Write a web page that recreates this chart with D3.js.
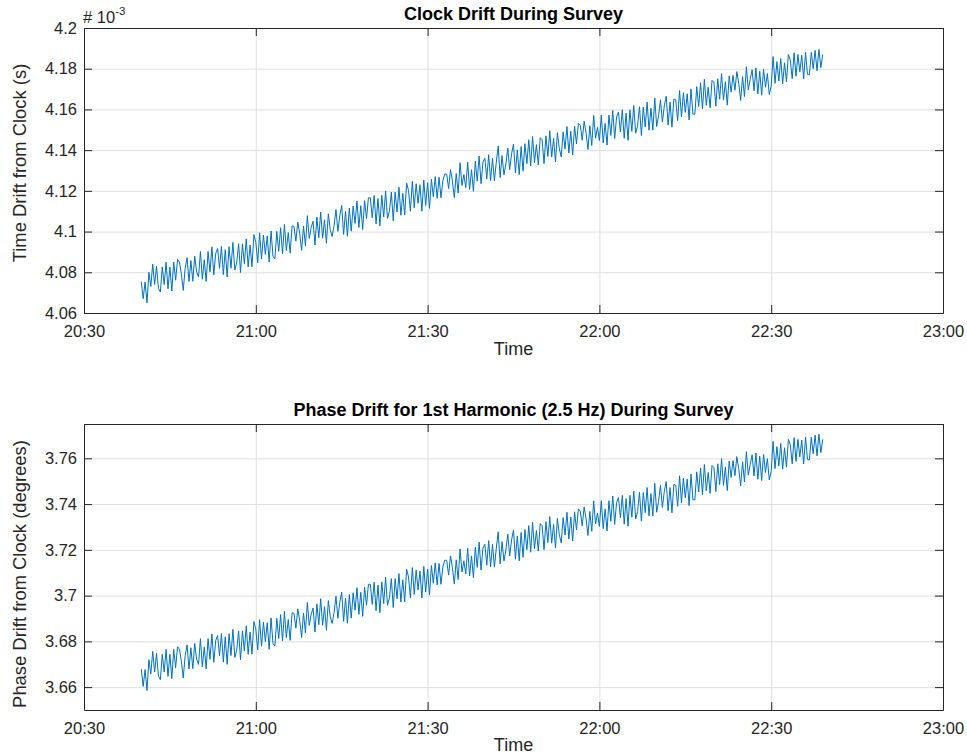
<!DOCTYPE html>
<html>
<head>
<meta charset="utf-8">
<script src="https://cdn.jsdelivr.net/npm/d3@7"></script>
<style>
  body { margin: 0; background: #fff; }
  svg { display: block; }
</style>
</head>
<body>
<svg id="chart" width="967" height="754"></svg>
<script>
// Survey clock record: one drift sample every 20 s starting at 20:40:00.
const START_TIME = "20:40:00";
const SAMPLE_SECONDS = 20;
const HARMONIC_HZ = 2.5;

// Time drift from the reference clock, in units of 10^-3 s.
const DRIFT_MS = [
  4.0754, 4.0670, 4.0752, 4.0650, 4.0800, 4.0730, 4.0840, 4.0740, 4.0830, 4.0720,
  4.0703, 4.0826, 4.0740, 4.0850, 4.0719, 4.0826, 4.0708, 4.0850, 4.0761, 4.0863,
  4.0850, 4.0793, 4.0711, 4.0819, 4.0872, 4.0755, 4.0858, 4.0756, 4.0879, 4.0802,
  4.0777, 4.0902, 4.0766, 4.0862, 4.0755, 4.0902, 4.0802, 4.0925, 4.0787, 4.0893,
  4.0917, 4.0819, 4.0927, 4.0788, 4.0911, 4.0777, 4.0926, 4.0820, 4.0947, 4.0811,
  4.0846, 4.0940, 4.0799, 4.0940, 4.0842, 4.0964, 4.0826, 4.0934, 4.0827, 4.0985,
  4.0948, 4.0847, 4.0994, 4.0865, 4.0983, 4.0888, 4.0979, 4.0850, 4.1003, 4.0879,
  4.0866, 4.1001, 4.0903, 4.1019, 4.0890, 4.1035, 4.0907, 4.0995, 4.0894, 4.1028,
  4.1025, 4.0953, 4.1047, 4.0990, 4.0908, 4.1027, 4.0930, 4.1078, 4.0966, 4.1020,
  4.1051, 4.0934, 4.1071, 4.0970, 4.1096, 4.0967, 4.1058, 4.0943, 4.1087, 4.1009,
  4.0976, 4.1029, 4.1108, 4.1001, 4.1079, 4.1128, 4.0986, 4.1099, 4.0977, 4.1116,
  4.1002, 4.1125, 4.1040, 4.1150, 4.1020, 4.1127, 4.1010, 4.1152, 4.1064, 4.1166,
  4.1166, 4.1068, 4.1177, 4.1038, 4.1162, 4.1028, 4.1178, 4.1072, 4.1200, 4.1064,
  4.1100, 4.1194, 4.1053, 4.1194, 4.1096, 4.1218, 4.1080, 4.1188, 4.1081, 4.1239,
  4.1202, 4.1100, 4.1247, 4.1117, 4.1235, 4.1139, 4.1230, 4.1100, 4.1253, 4.1128,
  4.1240, 4.1114, 4.1257, 4.1171, 4.1270, 4.1163, 4.1267, 4.1166, 4.1250, 4.1283,
  4.1282, 4.1211, 4.1304, 4.1248, 4.1167, 4.1285, 4.1189, 4.1338, 4.1226, 4.1280,
  4.1216, 4.1341, 4.1207, 4.1304, 4.1198, 4.1346, 4.1248, 4.1371, 4.1235, 4.1342,
  4.1360, 4.1259, 4.1378, 4.1251, 4.1360, 4.1249, 4.1342, 4.1421, 4.1265, 4.1373,
  4.1279, 4.1332, 4.1410, 4.1304, 4.1382, 4.1430, 4.1288, 4.1401, 4.1280, 4.1418,
  4.1297, 4.1432, 4.1334, 4.1451, 4.1322, 4.1467, 4.1339, 4.1427, 4.1327, 4.1461,
  4.1451, 4.1334, 4.1470, 4.1369, 4.1495, 4.1366, 4.1457, 4.1342, 4.1486, 4.1407,
  4.1367, 4.1490, 4.1405, 4.1516, 4.1386, 4.1493, 4.1376, 4.1518, 4.1430, 4.1532,
  4.1521, 4.1449, 4.1542, 4.1485, 4.1403, 4.1520, 4.1423, 4.1571, 4.1459, 4.1512,
  4.1447, 4.1572, 4.1436, 4.1532, 4.1425, 4.1572, 4.1472, 4.1595, 4.1457, 4.1563,
  4.1587, 4.1489, 4.1598, 4.1458, 4.1582, 4.1448, 4.1598, 4.1492, 4.1619, 4.1483,
  4.1519, 4.1613, 4.1472, 4.1612, 4.1514, 4.1636, 4.1498, 4.1606, 4.1498, 4.1656,
  4.1516, 4.1569, 4.1647, 4.1539, 4.1617, 4.1665, 4.1523, 4.1636, 4.1513, 4.1651,
  4.1647, 4.1545, 4.1693, 4.1563, 4.1682, 4.1586, 4.1677, 4.1548, 4.1701, 4.1577,
  4.1576, 4.1712, 4.1614, 4.1731, 4.1602, 4.1748, 4.1620, 4.1709, 4.1608, 4.1743,
  4.1733, 4.1616, 4.1751, 4.1650, 4.1776, 4.1646, 4.1736, 4.1621, 4.1765, 4.1685,
  4.1767, 4.1694, 4.1786, 4.1727, 4.1644, 4.1761, 4.1663, 4.1810, 4.1696, 4.1748,
  4.1795, 4.1692, 4.1804, 4.1676, 4.1788, 4.1670, 4.1797, 4.1709, 4.1776, 4.1673,
  4.1715, 4.1860, 4.1728, 4.1835, 4.1740, 4.1850, 4.1725, 4.1829, 4.1735, 4.1870,
  4.1843, 4.1751, 4.1878, 4.1763, 4.1870, 4.1785, 4.1866, 4.1750, 4.1880, 4.1772,
  4.1770, 4.1880, 4.1800, 4.1890, 4.1790, 4.1895, 4.1805, 4.1870
];

// Axis limits and ticks.
const X_RANGE = ["20:30", "23:00"];
const X_TICKS = ["20:30", "21:00", "21:30", "22:00", "22:30", "23:00"];
const DRIFT_RANGE = [4.06, 4.2];
const DRIFT_TICKS = [4.06, 4.08, 4.1, 4.12, 4.14, 4.16, 4.18, 4.2];
const PHASE_RANGE = [3.65, 3.775];
const PHASE_TICKS = [3.66, 3.68, 3.7, 3.72, 3.74, 3.76];

const FONT = "'Liberation Sans', Arial, Helvetica, sans-serif";
const INK = "#262626";
const GRID = "#dfdfdf";
const LINE = "#0072BD";
const LEFT = 84, RIGHT = 943;

const parseHMS = d3.timeParse("%H:%M:%S");
const parseHM = d3.timeParse("%H:%M");
const t0 = parseHMS(START_TIME);
const times = DRIFT_MS.map((_, i) => new Date(t0.getTime() + i * SAMPLE_SECONDS * 1000));
// Phase of the 2.5 Hz harmonic: drift (s) x frequency x 360 deg.
const PHASE_DEG = DRIFT_MS.map(d => d * 1e-3 * HARMONIC_HZ * 360);

const svg = d3.select("#chart");
const x = d3.scaleTime().domain(X_RANGE.map(parseHM)).range([LEFT, RIGHT]);
const xTickDates = X_TICKS.map(parseHM);

function styleText(sel, size) {
  sel.selectAll("text")
    .attr("font-family", FONT)
    .attr("font-size", size)
    .attr("fill", INK);
}

function drawPanel(cfg) {
  const { top, bottom, values, yDomain, yTicks, title, ylabel, titleY, xlabelY, ylabelY } = cfg;
  const y = d3.scaleLinear().domain(yDomain).range([bottom, top]);
  const g = svg.append("g");

  // grid
  g.append("g")
    .attr("transform", `translate(0,${bottom})`)
    .call(d3.axisBottom(x).tickValues(xTickDates).tickSize(-(bottom - top)).tickFormat(""))
    .call(s => s.select(".domain").remove())
    .call(s => s.selectAll("line").attr("stroke", GRID));
  g.append("g")
    .attr("transform", `translate(${LEFT},0)`)
    .call(d3.axisLeft(y).tickValues(yTicks).tickSize(-(RIGHT - LEFT)).tickFormat(""))
    .call(s => s.select(".domain").remove())
    .call(s => s.selectAll("line").attr("stroke", GRID));

  // data line
  g.append("path")
    .datum(values)
    .attr("fill", "none")
    .attr("stroke", LINE)
    .attr("stroke-width", 1)
    .attr("stroke-linejoin", "round")
    .attr("d", d3.line().x((d, i) => x(times[i])).y(d => y(d)));

  // axes with inward ticks on all four sides
  const bottomAxis = g.append("g")
    .attr("transform", `translate(0,${bottom})`)
    .call(d3.axisBottom(x).tickValues(xTickDates).tickFormat(d3.timeFormat("%H:%M"))
      .tickSizeInner(-8).tickSizeOuter(0).tickPadding(12));
  styleText(bottomAxis, "16.5px");

  g.append("g")
    .attr("transform", `translate(0,${top})`)
    .call(d3.axisTop(x).tickValues(xTickDates).tickFormat("").tickSizeInner(-8).tickSizeOuter(0));

  const leftAxis = g.append("g")
    .attr("transform", `translate(${LEFT},0)`)
    .call(d3.axisLeft(y).tickValues(yTicks).tickFormat(d3.format(".2~f"))
      .tickSizeInner(-8).tickSizeOuter(0).tickPadding(7));
  styleText(leftAxis, "16.5px");

  g.append("g")
    .attr("transform", `translate(${RIGHT},0)`)
    .call(d3.axisRight(y).tickValues(yTicks).tickFormat("").tickSizeInner(-8).tickSizeOuter(0));

  g.selectAll("g").filter(function () { return this.getAttribute("fill") === "none"; })
    .attr("color", INK);

  // titles and labels
  g.append("text")
    .attr("x", (LEFT + RIGHT) / 2).attr("y", titleY)
    .attr("text-anchor", "middle")
    .attr("font-family", FONT).attr("font-size", "18px").attr("font-weight", "bold")
    .attr("fill", "#000")
    .text(title);

  g.append("text")
    .attr("x", (LEFT + RIGHT) / 2).attr("y", xlabelY)
    .attr("text-anchor", "middle")
    .attr("font-family", FONT).attr("font-size", "18px")
    .attr("fill", INK)
    .text("Time");

  g.append("text")
    .attr("transform", `translate(26,${ylabelY}) rotate(-90)`)
    .attr("text-anchor", "middle")
    .attr("font-family", FONT).attr("font-size", "18.4px")
    .attr("fill", INK)
    .text(ylabel);

  return y;
}

drawPanel({
  top: 28, bottom: 313,
  values: DRIFT_MS, yDomain: DRIFT_RANGE, yTicks: DRIFT_TICKS,
  title: "Clock Drift During Survey",
  ylabel: "Time Drift from Clock (s)",
  titleY: 20, xlabelY: 355, ylabelY: 163
});

drawPanel({
  top: 424, bottom: 710,
  values: PHASE_DEG, yDomain: PHASE_RANGE, yTicks: PHASE_TICKS,
  title: "Phase Drift for 1st Harmonic (2.5 Hz) During Survey",
  ylabel: "Phase Drift from Clock (degrees)",
  titleY: 416, xlabelY: 751, ylabelY: 574
});

// axis exponent marker for the drift panel
const expo = svg.append("text")
  .attr("x", LEFT - 1).attr("y", 23)
  .attr("font-family", FONT).attr("font-size", "16.5px")
  .attr("fill", INK);
expo.append("tspan").text("# 10");
expo.append("tspan").attr("dy", -8).attr("font-size", "11.5px").text("-3");
</script>
</body>
</html>
